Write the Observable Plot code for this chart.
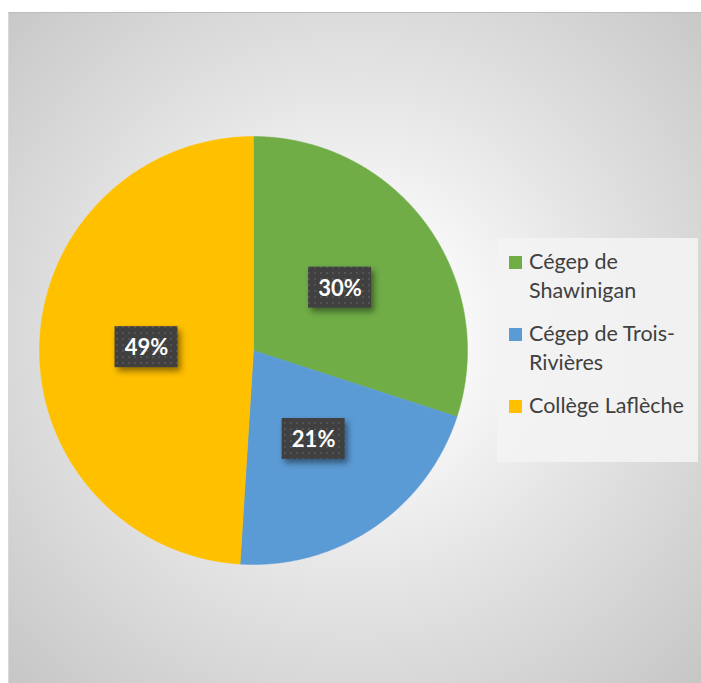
<!DOCTYPE html>
<html><head><meta charset="utf-8">
<script src="https://cdn.jsdelivr.net/npm/d3@7"></script>
<script src="https://cdn.jsdelivr.net/npm/@observablehq/plot@0.6"></script>
<style>
html,body{margin:0;padding:0;background:#fff;}
#wrap{position:relative;width:701px;height:683px;overflow:hidden;}
#bg{position:absolute;left:8px;top:12px;width:693px;height:671px;box-sizing:border-box;
  background:radial-gradient(circle farthest-corner at 50% 48%, #ffffff 0%, #fbfbfb 18%, #e2e2e2 55%, #c6c6c6 100%);
  border-top:1px solid #bcbcbc;border-left:1px solid #d8d8d8;}
#chart{position:absolute;left:0;top:0;}
#legend{position:absolute;left:497px;top:238px;width:201px;height:224px;box-sizing:border-box;
  background:rgba(243,243,243,0.9);padding:9px 0 0 12px;font-family:Lato,"Open Sans",sans-serif;font-size:21.5px;color:#404040;}
.item{display:flex;align-items:flex-start;margin-bottom:14px;line-height:29px;}
.sw{width:13px;height:13px;margin-top:9px;margin-right:7px;flex:none;}
.txt{width:168px;}
</style>
</head><body>
<div id="wrap"><div id="bg"></div><div id="chart"></div><div id="legend"></div></div>
<script>
const categories = ["Cégep de Shawinigan", "Cégep de Trois-Rivières", "Collège Laflèche"];
const values = [30, 21, 49];
const labels = ["30%", "21%", "49%"];
const colors = ["#70ad47", "#5b9bd5", "#ffc000"];

// layout (pixel space)
const W = 701, H = 683;
const cx = 253, cy = 350, R = 214;
const boxW = 63, boxH = 41;

const total = d3.sum(values);
const slices = [];
const labelData = [];
let acc = 0;
categories.forEach((name, i) => {
  const a0 = acc / total * 2 * Math.PI;
  acc += values[i];
  const a1 = acc / total * 2 * Math.PI;
  const n = Math.max(2, Math.ceil((a1 - a0) / 0.005));
  slices.push({name, x: cx, y: cy});
  for (let k = 0; k <= n; k++) {
    const a = a0 + (a1 - a0) * k / n;
    slices.push({name, x: cx + R * Math.sin(a), y: cy - R * Math.cos(a)});
  }
  slices.push({name, x: cx, y: cy});
  const am = (a0 + a1) / 2;
  const lx = cx + R * 0.5 * Math.sin(am), ly = cy - R * 0.5 * Math.cos(am);
  labelData.push({name, label: labels[i], lx, ly,
    x1: lx - boxW / 2, x2: lx + boxW / 2, y1: ly - boxH / 2, y2: ly + boxH / 2});
});

const plot = Plot.plot({
  width: W, height: H, margin: 0,
  x: {domain: [0, W], range: [0, W], axis: null},
  y: {domain: [0, H], range: [0, H], axis: null},
  color: {domain: categories, range: colors},
  style: {background: "transparent", overflow: "visible"},
  marks: [
    Plot.line(slices, {x: "x", y: "y", z: "name", fill: "name", stroke: "name", strokeWidth: 0.5}),
    Plot.rect(labelData, {x1: "x1", x2: "x2", y1: "y1", y2: "y2", fill: "url(#dots)"}),
    Plot.text(labelData, {x: "lx", y: "ly", text: "label", fill: "white", fontWeight: "bold",
      fontSize: 22, fontFamily: "Lato, 'Open Sans', sans-serif", dy: 1})
  ]
});

const svg = d3.select(plot);
const pat = svg.insert("defs", ":first-child").append("pattern")
  .attr("id", "dots").attr("patternUnits", "userSpaceOnUse").attr("width", 6).attr("height", 6);
pat.append("rect").attr("width", 6).attr("height", 6).attr("fill", "#404040");
pat.append("rect").attr("x", 2).attr("y", 2).attr("width", 2).attr("height", 2).attr("fill", "#535353");
svg.selectAll('g[aria-label="rect"]').style("filter", "drop-shadow(3px 4px 3px rgba(0,0,0,0.45))");

document.getElementById("chart").appendChild(plot);

const legend = d3.select("#legend");
categories.forEach((c, i) => {
  const it = legend.append("div").attr("class", "item");
  it.append("div").attr("class", "sw").style("background", colors[i]);
  it.append("div").attr("class", "txt").text(c);
});
</script>
</body></html>
